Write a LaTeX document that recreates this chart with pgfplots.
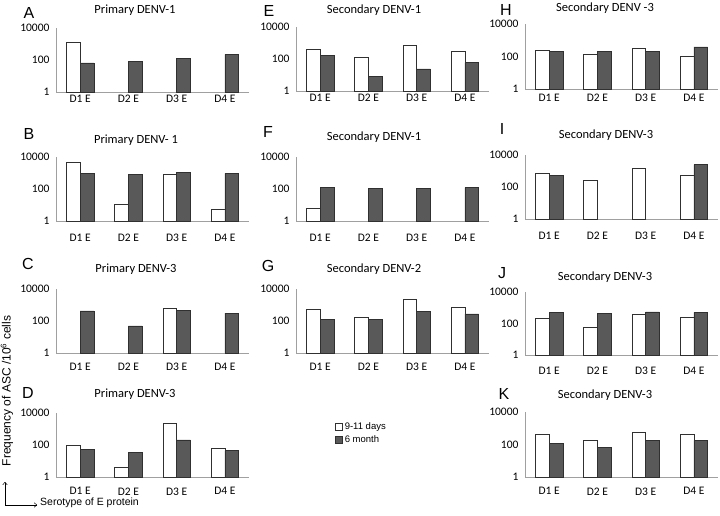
\documentclass[border=0pt]{standalone}
\usepackage{fontspec}
\setmainfont{Carlito}
\newfontfamily\arial{Liberation Sans}
\usepackage{pgfplots}
\pgfplotsset{compat=1.18}
\usetikzlibrary{arrows.meta}
\definecolor{axgray}{HTML}{A0A0A0}
\definecolor{barfill}{HTML}{595959}
\definecolor{baredge}{HTML}{303030}
\pgfplotsset{
 mypanel/.style={
  scale only axis, width=193pt, height=64pt, anchor=south west,
  ymin=1, ymax=10000, xmin=-0.5, xmax=3.5,
  axis lines*=left, axis line style={draw=axgray, line width=0.8pt},
  xtick={0,1,2,3}, xticklabels={D1 E,D2 E,D3 E,D4 E},
  ytick={1,100,10000}, yticklabels={1,100,10000},
  major tick length=0pt, minor tick length=0pt,
  tick label style={font=\fontsize{11.5}{13}\selectfont, text=black},
  yticklabel style={xshift=-3pt},
  ybar=0pt, bar width=13.7pt,
  clip=false,
 },
 myxls/.style={xticklabel style={yshift=#1}},
 wbar/.style={fill=white, draw=baredge, line width=0.6pt},
 dbar/.style={fill=barfill, draw=baredge, line width=0.6pt},
}
\newcommand\ttl[3]{\node[font=\fontsize{12.5}{14}\selectfont] at (#1pt,#2pt) {#3};}
\newcommand\lett[3]{\node[font=\arial\fontsize{16}{18}\selectfont] at (#1pt,#2pt) {#3};}
\begin{document}
\begin{tikzpicture}[x=1pt,y=1pt]
\useasboundingbox (0pt,0pt) rectangle (720pt,515pt);
% ---------- Row 1
\begin{semilogyaxis}[mypanel, at={(56pt,423pt)}, myxls=0pt]
\addplot[wbar] coordinates {(0,1350)};
\addplot[dbar] coordinates {(0,66) (1,80) (2,125) (3,224)};
\end{semilogyaxis}
\begin{semilogyaxis}[mypanel, at={(296pt,424pt)}, myxls=0pt]
\addplot[wbar] coordinates {(0,400) (1,127) (2,680) (3,302)};
\addplot[dbar] coordinates {(0,162) (1,8.3) (2,24) (3,59)};
\end{semilogyaxis}
\begin{semilogyaxis}[mypanel, at={(525pt,426pt)}, height=65pt, myxls=-2pt]
\addplot[wbar] coordinates {(0,229) (1,136) (2,302) (3,103)};
\addplot[dbar] coordinates {(0,198) (1,198) (2,198) (3,385)};
\end{semilogyaxis}
% ---------- Row 2
\begin{semilogyaxis}[mypanel, at={(56pt,294pt)}, myxls=-10pt]
\addplot[wbar] coordinates {(0,4440) (1,10.5) (2,790) (3,5.1)};
\addplot[dbar] coordinates {(0,910) (1,830) (2,1150) (3,955)};
\end{semilogyaxis}
\begin{semilogyaxis}[mypanel, at={(296pt,294pt)}, myxls=-10pt]
\addplot[wbar] coordinates {(0,6.1)};
\addplot[dbar] coordinates {(0,126) (1,110) (2,105) (3,120)};
\end{semilogyaxis}
\begin{semilogyaxis}[mypanel, at={(525pt,296pt)}, myxls=-10pt]
\addplot[wbar] coordinates {(0,715) (1,262) (2,1470) (3,560)};
\addplot[dbar] coordinates {(0,535) (3,2500)};
\end{semilogyaxis}
% ---------- Row 3
\begin{semilogyaxis}[mypanel, at={(56pt,162pt)}, myxls=-7pt]
\addplot[wbar] coordinates {(2,630)};
\addplot[dbar] coordinates {(0,430) (1,50) (2,450) (3,307)};
\end{semilogyaxis}
\begin{semilogyaxis}[mypanel, at={(296pt,162pt)}, myxls=-7pt]
\addplot[wbar] coordinates {(0,545) (1,173) (2,2170) (3,725)};
\addplot[dbar] coordinates {(0,130) (1,130) (2,390) (3,280)};
\end{semilogyaxis}
\begin{semilogyaxis}[mypanel, at={(525pt,160pt)}, height=63pt, myxls=-9pt]
\addplot[wbar] coordinates {(0,200) (1,57) (2,357) (3,233)};
\addplot[dbar] coordinates {(0,500) (1,415) (2,550) (3,500)};
\end{semilogyaxis}
% ---------- Row 4
\begin{semilogyaxis}[mypanel, at={(56pt,38pt)}, myxls=-7pt,
  legend style={at={(1.43,0.92)}, anchor=north west, draw=none, fill=none,
    font=\arial\fontsize{9.5}{11}\selectfont, row sep=1pt},
  legend cell align=left,
  legend image code/.code={\draw[#1, line width=0.6pt] (0pt,-3.5pt) rectangle (7pt,3.5pt);}]
\addplot[wbar] coordinates {(0,100) (1,3.9) (2,2130) (3,62)};
\addplot[dbar] coordinates {(0,52) (1,33) (2,207) (3,44)};
\legend{9-11 days, 6 month}
\end{semilogyaxis}
\begin{semilogyaxis}[mypanel, at={(525pt,38pt)}, height=65pt, myxls=-7pt]
\addplot[wbar] coordinates {(0,430) (1,182) (2,570) (3,430)};
\addplot[dbar] coordinates {(0,118) (1,70) (2,173) (3,182)};
\end{semilogyaxis}
% ---------- titles and letters
\ttl{135}{505}{Primary DENV-1}   \lett{29}{502}{A}
\ttl{374}{505}{Secondary DENV-1} \lett{269}{504}{E}
\ttl{605}{507}{Secondary DENV -3}\lett{506}{505}{H}
\ttl{136}{375}{Primary DENV- 1}  \lett{29}{381}{B}
\ttl{374}{378}{Secondary DENV-1} \lett{268}{383}{F}
\ttl{606}{380}{Secondary DENV-3} \lett{502}{386}{I}
\ttl{136}{246}{Primary DENV-3}   \lett{28}{251}{C}
\ttl{374}{246}{Secondary DENV-2} \lett{268}{249}{G}
\ttl{605}{238}{Secondary DENV-3} \lett{502}{242}{J}
\ttl{135}{121}{Primary DENV-3}   \lett{28}{122}{D}
\ttl{605}{120}{Secondary DENV-3} \lett{504}{121}{K}
% ---------- axis descriptions
\node[rotate=90, font=\arial\fontsize{12}{14}\selectfont] at (7pt,124pt) {Frequency of ASC /10\textsuperscript{6} cells};
\draw[-{To[length=3pt,width=5pt]}, line width=0.5pt] (5pt,10pt) -- (5pt,33pt);
\draw[-{To[length=3pt,width=5pt]}, line width=0.5pt] (5pt,10pt) -- (37pt,10pt);
\node[anchor=west, font=\arial\fontsize{10.5}{13}\selectfont, inner sep=0pt] at (40pt,12pt) {Serotype of E protein};
\end{tikzpicture}
\end{document}
